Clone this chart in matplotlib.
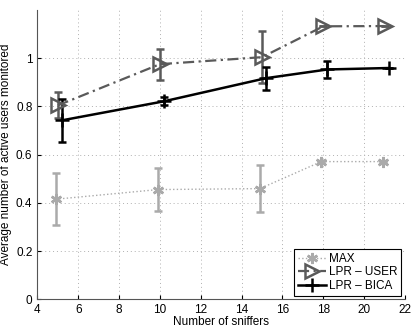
import matplotlib
matplotlib.use("Agg")
import matplotlib.pyplot as plt
from matplotlib.lines import Line2D

plt.rcParams["font.family"] = ["Liberation Sans", "DejaVu Sans"]

# data
max_x = [4.9, 9.9, 14.9, 17.9, 20.9]
max_y = [0.415, 0.455, 0.459, 0.571, 0.571]
max_err = [0.107, 0.088, 0.098, 0.0, 0.0]

user_x = [5.0, 10.0, 15.0, 18.0, 21.0]
user_y = [0.804, 0.975, 1.004, 1.132, 1.133]
user_err = [0.054, 0.064, 0.107, 0.0, 0.0]

bica_x = [5.2, 10.2, 15.2, 18.2, 21.2]
bica_y = [0.742, 0.821, 0.917, 0.953, 0.959]
bica_err = [0.088, 0.017, 0.048, 0.034, 0.0]

xticks = [4, 6, 8, 10, 12, 14, 16, 18, 20, 22]
yticks = [0, 0.2, 0.4, 0.6, 0.8, 1]

styles = {
    "MAX": dict(color="#aaaaaa", linestyle=":", linewidth=1.0,
                marker=(6, 2, 0), markersize=8, markeredgewidth=1.8),
    "LPR – USER": dict(color="#5a5a5a", linestyle=(0, (5, 2, 1, 2)), linewidth=1.6,
                       marker=">", markersize=10, markerfacecolor="none",
                       markeredgewidth=1.8),
    "LPR – BICA": dict(color="black", linestyle="-", linewidth=1.8,
                       marker="+", markersize=10, markeredgewidth=1.8),
}

fig = plt.figure(figsize=(4.15, 3.3), dpi=100)
ax = fig.add_axes([0.090, 0.093, 0.886, 0.877])

series = [("MAX", max_x, max_y, max_err),
          ("LPR – USER", user_x, user_y, user_err),
          ("LPR – BICA", bica_x, bica_y, bica_err)]
for name, xs, ys, errs in series:
    st = styles[name]
    ax.errorbar(xs, ys, yerr=errs, elinewidth=1.8, capsize=3, capthick=1.8,
                ecolor=st["color"], **st)

ax.set_xlim(4, 22)
ax.set_ylim(0, 1.2)
ax.set_xticks(xticks)
ax.set_yticks(yticks)
ax.set_yticklabels(["0", "0.2", "0.4", "0.6", "0.8", "1"])
ax.tick_params(direction="in", length=3, labelsize=8.5, colors="black",
               top=False, right=False)
ax.grid(True, linestyle=(0, (1, 3)), color="#b0b0b0", linewidth=0.7)
for side in ("top", "right"):
    ax.spines[side].set_visible(False)
for side in ("left", "bottom"):
    ax.spines[side].set_color("#555555")

ax.set_xlabel("Number of sniffers", fontsize=8.5, labelpad=0)
ax.set_ylabel("Average number of active users monitored", fontsize=8.5, labelpad=3)

handles = [Line2D([], [], **styles[name]) for name, *_ in series]
leg = ax.legend(handles, [s[0] for s in series], loc="lower right", fontsize=8.5,
                handlelength=2.4, fancybox=False, framealpha=1,
                edgecolor="black", borderpad=0.3, labelspacing=0.15,
                handletextpad=0.3, borderaxespad=0.3)
leg.get_frame().set_linewidth(0.8)

fig.savefig("out.png", dpi=100)
